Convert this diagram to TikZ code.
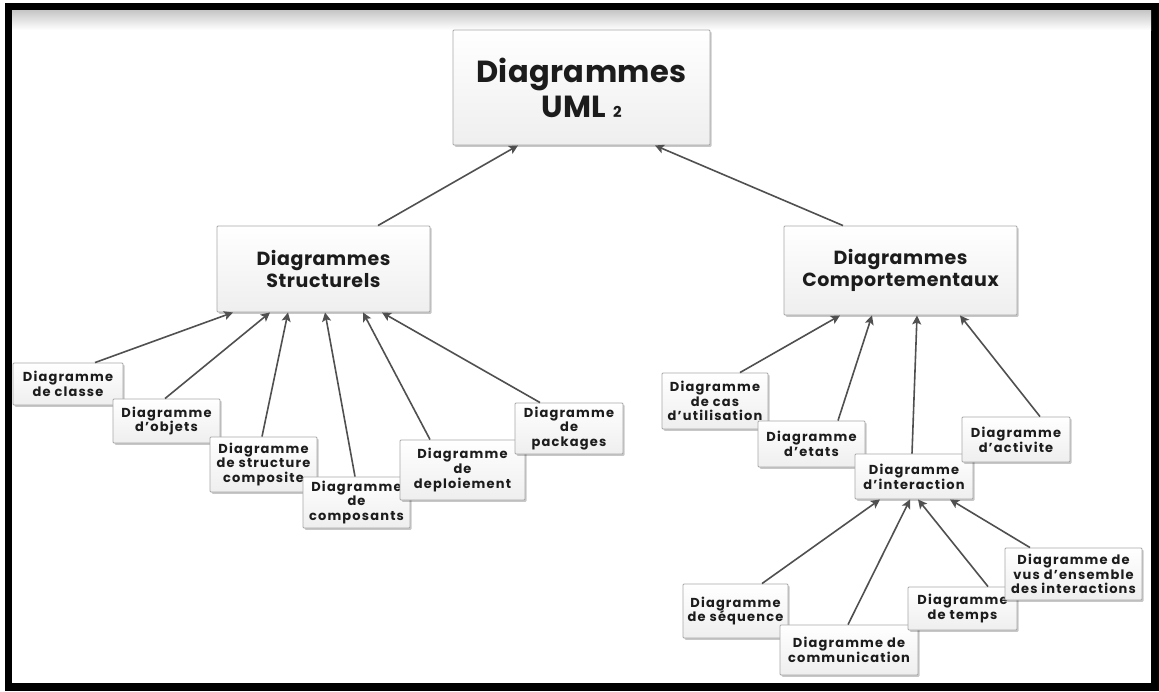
\documentclass[tikz,border=0pt]{standalone}
\usepackage{fontspec}
\setmainfont{Poppins}
\usetikzlibrary{arrows.meta,shadows}

\definecolor{edgegray}{HTML}{A8A8A8}
\definecolor{linkgray}{HTML}{505050}
\definecolor{inkblack}{HTML}{1C1C1C}

\tikzset{
  x=1pt, y=-1pt,
  panel/.style={draw=edgegray, line width=0.9pt, top color=white, bottom color=gray!13,
    rounded corners=1pt, align=center, inner sep=0pt, text=inkblack,
    drop shadow={shadow xshift=1.6pt, shadow yshift=-1.8pt, fill=black, opacity=0.22}},
  bigpanel/.style={panel, font=\bfseries\fontsize{30.5}{35}\selectfont\addfontfeatures{LetterSpace=1.5}},
  midpanel/.style={panel, font=\bfseries\fontsize{19}{22}\selectfont\addfontfeatures{LetterSpace=3}},
  leafpanel/.style={panel, font=\bfseries\fontsize{13}{14.8}\selectfont\addfontfeatures{LetterSpace=9}},
  link/.style={draw=linkgray, line width=1.6pt,
    -{Stealth[length=9pt, width=9pt, inset=2pt]}},
}

\begin{document}
\begin{tikzpicture}
  % frame
  \useasboundingbox (0,0) rectangle (1159,691);
  \fill[white] (0,0) rectangle (1159,691);
  \fill[black] (5,3) rectangle (1159,691);
  \fill[white] (12,10) rectangle (1151,683);
  \shade[top color=gray!45, bottom color=white] (12,10) rectangle (1151,30);

  % root and the two families
  \node[bigpanel, minimum width=257pt, minimum height=115pt] (uml) at (581.5,87.5)
    {Diagrammes\\UML {\fontsize{15}{15}\selectfont 2}};
  \node[midpanel, minimum width=213pt, minimum height=86pt] (struct) at (323.5,269)
    {Diagrammes\\Structurels};
  \node[midpanel, minimum width=233pt, minimum height=89pt] (behav) at (900.5,270.5)
    {Diagrammes\\Comportementaux};

  % structural diagrams
  \node[leafpanel, minimum width=110pt, minimum height=42pt] (classe) at (68,384)
    {Diagramme\\de classe};
  \node[leafpanel, minimum width=107pt, minimum height=44pt] (objets) at (166.5,421)
    {Diagramme\\d’objets};
  \node[leafpanel, minimum width=107pt, minimum height=55pt] (compo) at (263.5,464.5)
    {Diagramme\\de structure\\composite};
  \node[leafpanel, minimum width=107pt, minimum height=51pt] (compos) at (356.5,502.5)
    {Diagramme\\de\\composants};
  \node[leafpanel, minimum width=125pt, minimum height=60pt] (deploy) at (462.5,470)
    {Diagramme\\de\\deploiement};
  \node[leafpanel, minimum width=108pt, minimum height=51pt] (pack) at (569,428.5)
    {Diagramme\\de\\packages};

  % behavioural diagrams
  \node[leafpanel, minimum width=106pt, minimum height=56pt] (usecase) at (715,401)
    {Diagramme\\de cas\\d’utilisation};
  \node[leafpanel, minimum width=107pt, minimum height=46pt] (etats) at (811.5,444)
    {Diagramme\\d’etats};
  \node[leafpanel, minimum width=118pt, minimum height=45pt] (inter) at (914,476.5)
    {Diagramme\\d’interaction};
  \node[leafpanel, minimum width=108pt, minimum height=45pt] (activ) at (1016,439.5)
    {Diagramme\\d’activite};

  % interaction diagrams
  \node[leafpanel, minimum width=105pt, minimum height=54pt] (seq) at (735.5,611)
    {Diagramme\\de séquence};
  \node[leafpanel, minimum width=138pt, minimum height=50pt] (comm) at (849,650)
    {Diagramme de\\communication};
  \node[leafpanel, minimum width=109pt, minimum height=43pt] (temps) at (962.5,608.5)
    {Diagramme\\de temps};
  \node[leafpanel, minimum width=137pt, minimum height=52pt] (overview) at (1073.5,574)
    {Diagramme de\\vus d’ensemble\\des interactions};

  % connectors
  \draw[link] ([xshift=54.5pt]struct.north) -- ([xshift=-63.5pt]uml.south);
  \draw[link] ([xshift=-57.5pt]behav.north) -- ([xshift=73.5pt]uml.south);

  \draw[link] ([xshift=27pt]classe.north) -- ([xshift=-90.5pt]struct.south);
  \draw[link] ([xshift=-1.5pt]objets.north) -- ([xshift=-53.5pt]struct.south);
  \draw[link] ([xshift=-1.5pt]compo.north) -- ([xshift=-35.5pt]struct.south);
  \draw[link] ([xshift=-1.5pt]compos.north) -- ([xshift=1.5pt]struct.south);
  \draw[link] ([xshift=-32.5pt]deploy.north) -- ([xshift=39.5pt]struct.south);
  \draw[link] ([xshift=-29pt]pack.north) -- ([xshift=58.5pt]struct.south);

  \draw[link] ([xshift=25pt]usecase.north) -- ([xshift=-60.5pt]behav.south);
  \draw[link] ([xshift=26.5pt]etats.north) -- ([xshift=-28.5pt]behav.south);
  \draw[link] ([xshift=-2pt]inter.north) -- ([xshift=16.5pt]behav.south);
  \draw[link] ([xshift=24pt]activ.north) -- ([xshift=59.5pt]behav.south);

  \draw[link] ([xshift=26.5pt]seq.north) -- ([xshift=-34pt]inter.south);
  \draw[link] ([xshift=-1pt]comm.north) -- ([xshift=-4pt]inter.south);
  \draw[link] ([xshift=25.5pt]temps.north) -- ([xshift=4pt]inter.south);
  \draw[link] ([xshift=-43.5pt]overview.north) -- ([xshift=36pt]inter.south);
\end{tikzpicture}
\end{document}
